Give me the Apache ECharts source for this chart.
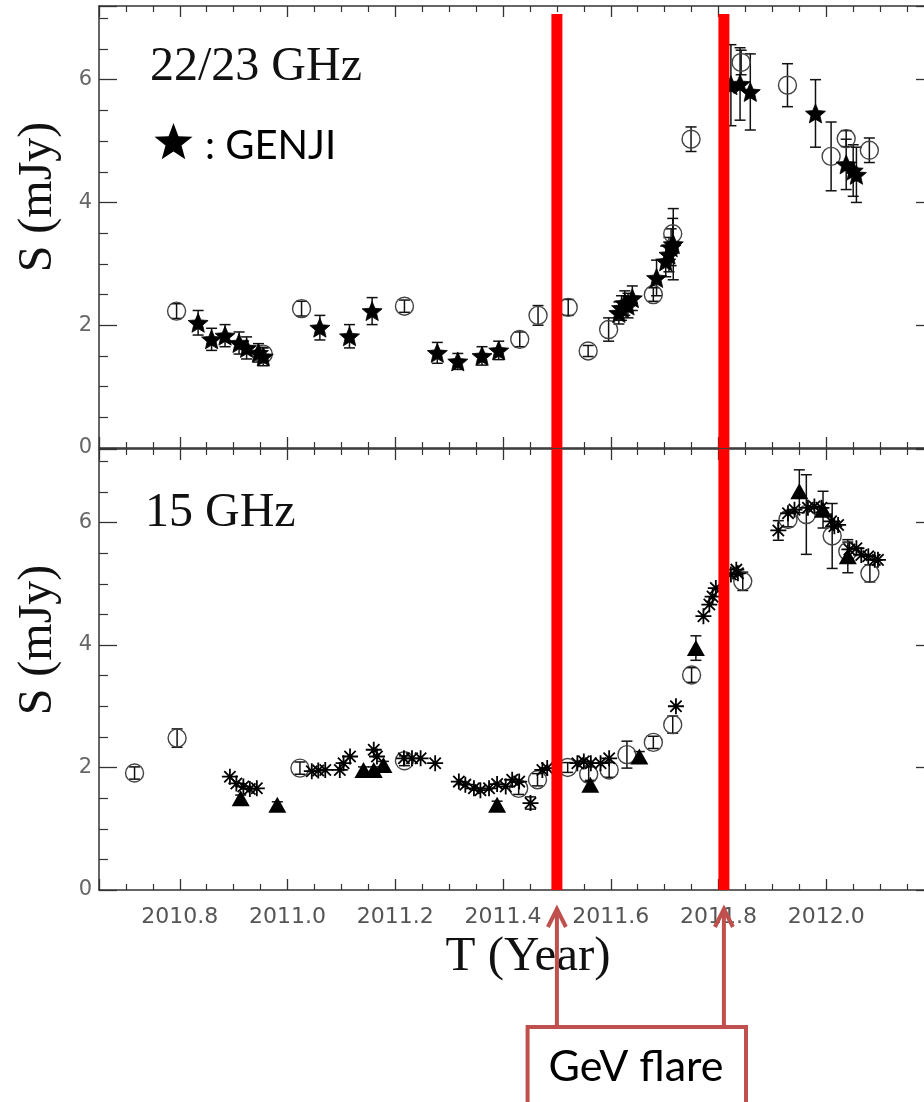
<!DOCTYPE html>
<html>
<head>
<meta charset="utf-8">
<script src="https://cdn.jsdelivr.net/npm/echarts@6/dist/echarts.min.js"></script>
<style>
  html, body { margin: 0; padding: 0; background: #fff; }
  #chart { width: 924px; height: 1102px; }
</style>
</head>
<body>
<div id="chart"></div>
<script>
// ---- 22/23 GHz single-dish monitoring (open circles) ----
const k22Year = [2010.794, 2010.955, 2011.026, 2011.217, 2011.431, 2011.465, 2011.521, 2011.558, 2011.596,
                 2011.679, 2011.715, 2011.749, 2011.842, 2011.928, 2012.009, 2012.037, 2012.080];
const k22Flux = [2.23, 1.53, 2.27, 2.31, 1.77, 2.16, 2.29, 1.58, 1.93,
                 2.50, 3.49, 5.03, 6.28, 5.91, 4.75, 5.04, 4.85];
const k22Err  = [0.12, 0.10, 0.12, 0.10, 0.12, 0.16, 0.13, 0.09, 0.19,
                 0.11, 0.25, 0.20, 0.20, 0.35, 0.56, 0.13, 0.20];

// ---- GENJI 22 GHz (filled stars) ----
const genjiYear = [2010.834, 2010.859, 2010.884, 2010.910, 2010.924, 2010.946, 2010.955, 2011.060, 2011.115,
                   2011.157, 2011.278, 2011.316, 2011.361, 2011.392, 2011.615, 2011.620, 2011.626, 2011.632,
                   2011.640, 2011.685, 2011.702, 2011.708, 2011.712, 2011.716, 2011.823, 2011.840, 2011.859,
                   2011.980, 2012.037, 2012.050, 2012.056];
const genjiFlux = [2.04, 1.77, 1.83, 1.71, 1.63, 1.55, 1.49, 1.96, 1.82,
                   2.23, 1.55, 1.41, 1.50, 1.59, 2.20, 2.28, 2.36, 2.32,
                   2.44, 2.77, 3.04, 3.15, 3.27, 3.32, 5.91, 5.93, 5.80,
                   5.45, 4.62, 4.52, 4.45];
const genjiErr  = [0.20, 0.18, 0.18, 0.18, 0.18, 0.15, 0.15, 0.20, 0.19,
                   0.22, 0.17, 0.13, 0.15, 0.15, 0.18, 0.20, 0.20, 0.20,
                   0.20, 0.29, 0.25, 0.28, 0.30, 0.58, 0.66, 0.59, 0.62,
                   0.55, 0.41, 0.42, 0.45];

// ---- 15 GHz: open circles ----
const c15Year = [2010.716, 2010.795, 2011.023, 2011.217, 2011.429, 2011.464, 2011.520, 2011.559, 2011.597,
                 2011.630, 2011.679, 2011.715, 2011.750, 2011.845, 2011.929, 2011.963, 2012.011, 2012.040, 2012.081];
const c15Flux = [1.91, 2.48, 1.99, 2.11, 1.66, 1.80, 2.00, 1.89, 1.96,
                 2.21, 2.41, 2.70, 3.51, 5.04, 6.05, 6.13, 5.78, 5.53, 5.17];
const c15Err  = [0.10, 0.15, 0.10, 0.08, 0.10, 0.10, 0.08, 0.12, 0.12,
                 0.22, 0.10, 0.14, 0.12, 0.15, 0.12, 0.65, 0.53, 0.15, 0.14];

// ---- 15 GHz: filled triangles ----
const t15Year = [2010.913, 2010.981, 2011.141, 2011.160, 2011.178, 2011.389, 2011.562, 2011.653,
                 2011.758, 2011.950, 2011.994, 2012.040];
const t15Flux = [1.50, 1.39, 1.96, 1.96, 2.04, 1.39, 1.72, 2.18, 3.95, 6.51, 6.21, 5.45];
const t15Err  = [0.05, 0.05, 0.05, 0.05, 0.06, 0.06, 0.07, 0.08, 0.20, 0.35, 0.30, 0.27];

// ---- 15 GHz: asterisks ----
const a15Year = [2010.893, 2010.905, 2010.918, 2010.930, 2010.943, 2011.045, 2011.057, 2011.070, 2011.097,
                 2011.104, 2011.116, 2011.160, 2011.166, 2011.216, 2011.231, 2011.247, 2011.274, 2011.318,
                 2011.330, 2011.346, 2011.358, 2011.374, 2011.389, 2011.405, 2011.417, 2011.430, 2011.451,
                 2011.473, 2011.482, 2011.538, 2011.550, 2011.563, 2011.581, 2011.597, 2011.721, 2011.772,
                 2011.783, 2011.789, 2011.795, 2011.823, 2011.833, 2011.836, 2011.911, 2011.929, 2011.941,
                 2011.966, 2011.978, 2011.991, 2012.009, 2012.015, 2012.022, 2012.043, 2012.056, 2012.065,
                 2012.078, 2012.090, 2012.096];
const a15Flux = [1.85, 1.74, 1.69, 1.65, 1.66, 1.94, 1.95, 1.96, 1.96,
                 2.07, 2.18, 2.29, 2.18, 2.15, 2.15, 2.15, 2.07, 1.77,
                 1.72, 1.66, 1.63, 1.66, 1.73, 1.69, 1.80, 1.77, 1.42,
                 1.96, 1.99, 2.07, 2.10, 2.07, 2.07, 2.15, 3.00, 4.47,
                 4.66, 4.79, 4.93, 5.15, 5.23, 5.17, 5.87, 6.15, 6.21,
                 6.24, 6.26, 6.24, 6.02, 5.94, 5.96, 5.56, 5.58, 5.47,
                 5.45, 5.39, 5.39];
const a15Err  = a15Year.map((t) => (t === 2011.451 ? 0.1 : t === 2011.911 ? 0.16 : 0));

// ---- GeV flare epochs ----
const flareYears = [2011.50, 2011.81];

// axis extents
const yearMin = 2010.65, yearMax = 2012.2;
const fluxMin = 0, fluxMax = 7.2;

const rows = (xs, ys, es) => xs.map((x, i) => [x, ys[i], es[i]]);

const INK = '#111';
const AXIS = '#333';

// 5-point star symbol
function starPath(R, rRatio) {
  const pts = [];
  for (let k = 0; k < 10; k++) {
    const a = (-90 + k * 36) * Math.PI / 180;
    const r = k % 2 === 0 ? R : R * rRatio;
    pts.push((r * Math.cos(a)).toFixed(3) + ',' + (r * Math.sin(a)).toFixed(3));
  }
  return 'M' + pts.join('L') + 'Z';
}
const STAR = 'path://' + starPath(10, 0.45);
const ASTERISK = 'path://M0,-1L0,1M-1,0L1,0M-0.7071,-0.7071L0.7071,0.7071M-0.7071,0.7071L0.7071,-0.7071';

function errorBars(data, xi, yi) {
  return {
    type: 'custom', xAxisIndex: xi, yAxisIndex: yi, data, z: 3,
    encode: { x: 0, y: 1 }, silent: true,
    renderItem(params, api) {
      const x = api.value(0), y = api.value(1), e = api.value(2);
      if (!(e > 0)) return null;
      const lo = api.coord([x, y - e]);
      const hi = api.coord([x, y + e]);
      const w = 5.5;
      const st = { stroke: INK, lineWidth: 1.5 };
      return {
        type: 'group', children: [
          { type: 'line', shape: { x1: lo[0], y1: lo[1], x2: hi[0], y2: hi[1] }, style: st },
          { type: 'line', shape: { x1: lo[0] - w, y1: lo[1], x2: lo[0] + w, y2: lo[1] }, style: st },
          { type: 'line', shape: { x1: hi[0] - w, y1: hi[1], x2: hi[0] + w, y2: hi[1] }, style: st }
        ]
      };
    }
  };
}

function flareBars(topVal, xi, yi) {
  return {
    type: 'custom', xAxisIndex: xi, yAxisIndex: yi, z: 20, silent: true, clip: false,
    data: flareYears.map((t) => [t, topVal]),
    encode: { x: 0, y: 1 },
    renderItem(params, api) {
      const top = api.coord([api.value(0), api.value(1)]);
      const bot = api.coord([api.value(0), 0]);
      return {
        type: 'rect',
        shape: { x: top[0] - 5.5, y: top[1], width: 11, height: bot[1] - top[1] },
        style: { fill: '#ff0000' }
      };
    }
  };
}

function xAxisDef(grid, pos, labels) {
  return {
    type: 'value', gridIndex: grid, position: pos, min: yearMin, max: yearMax,
    splitNumber: 8,
    axisLine: { show: true, onZero: false, lineStyle: { color: AXIS, width: 1.5 } },
    axisTick: { show: true, inside: true, length: 11, lineStyle: { color: AXIS, width: 1.3 } },
    minorTick: { show: true, splitNumber: 4, length: 6, lineStyle: { color: AXIS, width: 1.2 } },
    splitLine: { show: false },
    axisLabel: {
      show: labels, margin: 16, color: '#555', fontSize: 22, fontFamily: 'DejaVu Sans',
      showMinLabel: false, showMaxLabel: false,
      formatter: (v) => v.toFixed(1)
    }
  };
}

function yAxisDef(grid, pos, labels) {
  return {
    type: 'value', gridIndex: grid, position: pos, min: fluxMin, max: fluxMax, interval: 2,
    axisLine: { show: true, onZero: false, lineStyle: { color: AXIS, width: 1.5 } },
    axisTick: { show: true, inside: true, length: 18, lineStyle: { color: AXIS, width: 1.3 } },
    minorTick: { show: true, splitNumber: 4, length: 9, lineStyle: { color: AXIS, width: 1.2 } },
    splitLine: { show: false },
    axisLabel: {
      show: labels, margin: 7, color: '#666', fontSize: 21, fontFamily: 'DejaVu Sans',
      showMaxLabel: false,
      formatter: (v) => (v % 2 === 0 ? String(v) : '')
    }
  };
}

const circleStyle = { color: 'rgba(255,255,255,0)', borderColor: '#444', borderWidth: 1.4, opacity: 1 };

const option = {
  animation: false,
  backgroundColor: '#fff',
  grid: [
    { left: 99, width: 835, top: 6, height: 442, outerBoundsMode: 'none', containLabel: false },
    { left: 99, width: 835, top: 449, height: 441, outerBoundsMode: 'none', containLabel: false }
  ],
  xAxis: [xAxisDef(0, 'bottom', false), xAxisDef(0, 'top', false),
          xAxisDef(1, 'bottom', true), xAxisDef(1, 'top', false)],
  yAxis: [yAxisDef(0, 'left', true), yAxisDef(0, 'right', false),
          yAxisDef(1, 'left', true), yAxisDef(1, 'right', false)],
  series: [
    // upper panel
    errorBars(rows(k22Year, k22Flux, k22Err), 0, 0),
    errorBars(rows(genjiYear, genjiFlux, genjiErr), 0, 0),
    {
      type: 'scatter', xAxisIndex: 0, yAxisIndex: 0, z: 4, silent: true,
      data: rows(k22Year, k22Flux, k22Err), symbol: 'circle', symbolSize: 18, itemStyle: circleStyle
    },
    {
      type: 'scatter', xAxisIndex: 0, yAxisIndex: 0, z: 5, silent: true,
      data: rows(genjiYear, genjiFlux, genjiErr), symbol: STAR, symbolSize: 20, symbolKeepAspect: true,
      itemStyle: { color: '#000', borderColor: '#000', borderWidth: 0.8, opacity: 1 }
    },
    // lower panel
    errorBars(rows(c15Year, c15Flux, c15Err), 2, 2),
    errorBars(rows(t15Year, t15Flux, t15Err), 2, 2),
    errorBars(rows(a15Year, a15Flux, a15Err), 2, 2),
    {
      type: 'scatter', xAxisIndex: 2, yAxisIndex: 2, z: 4, silent: true,
      data: rows(c15Year, c15Flux, c15Err), symbol: 'circle', symbolSize: 18, itemStyle: circleStyle
    },
    {
      type: 'scatter', xAxisIndex: 2, yAxisIndex: 2, z: 5, silent: true,
      data: rows(t15Year, t15Flux, t15Err), symbol: 'triangle', symbolSize: [18, 16],
      itemStyle: { color: '#000', opacity: 1 }
    },
    {
      type: 'scatter', xAxisIndex: 2, yAxisIndex: 2, z: 5, silent: true,
      data: rows(a15Year, a15Flux, a15Err), symbol: ASTERISK, symbolSize: 16,
      itemStyle: { color: 'rgba(0,0,0,0)', borderColor: '#000', borderWidth: 1.8, opacity: 1 }
    },
    // GeV flare markers
    flareBars(7.07, 0, 0),
    flareBars(fluxMax, 2, 2)
  ]
};

const chart = echarts.init(document.getElementById('chart'), null, { renderer: 'canvas' });
chart.setOption(option);

// text, legend glyph and flare call-out
const SERIF = '"Liberation Serif", "Times New Roman", serif';
const CALLOUT = '#C0504D';

function starPoints(cx, cy, R, rRatio) {
  const pts = [];
  for (let k = 0; k < 10; k++) {
    const a = (-90 + k * 36) * Math.PI / 180;
    const r = k % 2 === 0 ? R : R * rRatio;
    pts.push([cx + r * Math.cos(a), cy + r * Math.sin(a)]);
  }
  return pts;
}

const flarePx = flareYears.map((t) => chart.convertToPixel({ xAxisIndex: 2 }, t));
const arrowTip = 909, boxTop = 1027;

const graphics = [
  { type: 'text', x: 150, y: 67, z: 30,
    style: { text: '22/23 GHz', fontSize: 48, fontFamily: SERIF, fill: INK, align: 'left', verticalAlign: 'middle' } },
  { type: 'text', x: 145, y: 513, z: 30,
    style: { text: '15 GHz', fontSize: 48, fontFamily: SERIF, fill: INK, align: 'left', verticalAlign: 'middle' } },
  { type: 'polygon', z: 30, shape: { points: starPoints(173.5, 143, 20, 0.42) }, style: { fill: '#000' } },
  { type: 'text', x: 205, y: 146, z: 30,
    style: { text: ': GENJI', fontSize: 40, fontFamily: 'Lato', fill: '#000', align: 'left', verticalAlign: 'middle' } },
  { type: 'text', x: 38, y: 197, rotation: Math.PI / 2, z: 30,
    style: { text: 'S (mJy)', fontSize: 48, fontFamily: SERIF, fill: INK, align: 'center', verticalAlign: 'middle' } },
  { type: 'text', x: 38, y: 640, rotation: Math.PI / 2, z: 30,
    style: { text: 'S (mJy)', fontSize: 48, fontFamily: SERIF, fill: INK, align: 'center', verticalAlign: 'middle' } },
  { type: 'text', x: 528, y: 957, z: 30,
    style: { text: 'T (Year)', fontSize: 49, fontFamily: SERIF, fill: INK, align: 'center', verticalAlign: 'middle' } },
  // call-out box
  { type: 'rect', z: 40, shape: { x: 527.6, y: boxTop, width: 218.4, height: 100 },
    style: { fill: '#fff', stroke: CALLOUT, lineWidth: 4 } },
  { type: 'text', x: 636, y: 1067, z: 41,
    style: { text: 'GeV flare', fontSize: 43, fontFamily: 'Lato', fill: '#000', align: 'center', verticalAlign: 'middle' } }
];

flarePx.forEach((px) => {
  graphics.push({ type: 'line', z: 42, shape: { x1: px, y1: boxTop, x2: px, y2: arrowTip + 2 },
    style: { stroke: CALLOUT, lineWidth: 4 } });
  graphics.push({ type: 'polyline', z: 42,
    shape: { points: [[px - 9, arrowTip + 18], [px, arrowTip], [px + 9, arrowTip + 18]] },
    style: { stroke: CALLOUT, lineWidth: 4, fill: null, lineJoin: 'miter' } });
});

chart.setOption({ graphic: graphics });
</script>
</body>
</html>
